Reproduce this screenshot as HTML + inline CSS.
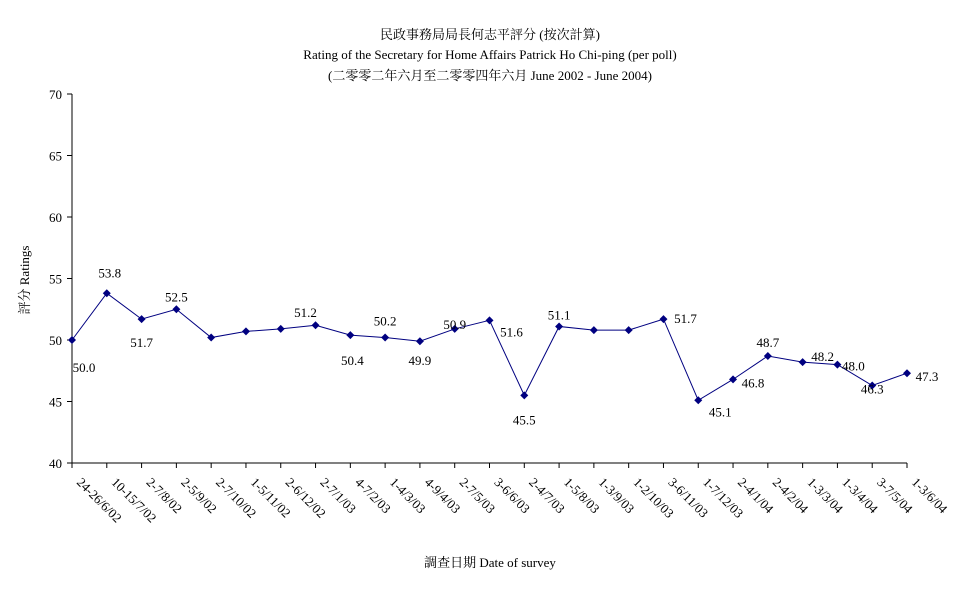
<!DOCTYPE html>
<html><head><meta charset="utf-8"><style>
body{margin:0;background:#fff;}
svg text{font-family:"Liberation Serif","Noto Serif CJK SC","Noto Sans CJK TC",serif;font-size:13px;fill:#000;}
</style></head><body>
<svg id="chart" width="977" height="600" xmlns="http://www.w3.org/2000/svg">
<text x="490" y="39" text-anchor="middle">民政事務局局長何志平評分 (按次計算)</text>
<text x="490" y="59" text-anchor="middle">Rating of the Secretary for Home Affairs Patrick Ho Chi-ping (per poll)</text>
<text x="490" y="80" text-anchor="middle">(二零零二年六月至二零零四年六月 June 2002 - June 2004)</text>
<text transform="translate(29,280) rotate(-90)" text-anchor="middle">評分 Ratings</text>
<text x="490" y="567" text-anchor="middle">調查日期 Date of survey</text>
<g id="g"></g>
</svg>
<script>
const categories=["24-26/6/02","10-15/7/02","2-7/8/02","2-5/9/02","2-7/10/02","1-5/11/02","2-6/12/02","2-7/1/03","4-7/2/03","1-4/3/03","4-9/4/03","2-7/5/03","3-6/6/03","2-4/7/03","1-5/8/03","1-3/9/03","1-2/10/03","3-6/11/03","1-7/12/03","2-4/1/04","2-4/2/04","1-3/3/04","1-3/4/04","3-7/5/04","1-3/6/04"];
const ratings=[50.0,53.8,51.7,52.5,50.2,50.7,50.9,51.2,50.4,50.2,49.9,50.9,51.6,45.5,51.1,50.8,50.8,51.7,45.1,46.8,48.7,48.2,48.0,46.3,47.3];
const shownLabels=[true,true,true,true,false,false,false,true,true,true,true,true,true,true,true,false,false,true,true,true,true,true,true,true,true];
const yTicks=[40,45,50,55,60,65,70];
const labelOffsets=[[12,28],[3,-20],[0,24],[0,-12],[0,0],[0,0],[0,0],[-10,-12],[2,26],[0,-16],[0,20],[0,-4],[22,12],[0,25],[0,-11],[0,0],[0,0],[22,0],[22,12],[20,4],[0,-13],[20,-5],[16,2],[0,4],[20,4]];
const X0=72,X1=907,Y0=463,Y1=94;
const x=i=>X0+i*(X1-X0)/(categories.length-1);
const y=v=>Y0-(v-40)*(Y0-Y1)/30;
const g=document.getElementById('g');
const NS='http://www.w3.org/2000/svg';
function mk(t,a){const e=document.createElementNS(NS,t);for(const k in a)e.setAttribute(k,a[k]);g.appendChild(e);return e;}
let e=mk('line',{x1:X0,y1:Y1,x2:X0,y2:Y0,stroke:'#000'});


e=mk('line',{x1:X0,y1:Y0,x2:X1,y2:Y0,stroke:'#000'});


yTicks.forEach(t=>{
 let l=mk('line',{x1:X0-5,y1:y(t),x2:X0,y2:y(t),stroke:'#000'});
 
 
 let tx=mk('text',{x:X0-10,y:y(t)+5,'text-anchor':'end'});tx.textContent=t;
 
 
});
categories.forEach((c,i)=>{
 let l=mk('line',{x1:x(i),y1:Y0,x2:x(i),y2:Y0+5,stroke:'#000'});
 
 
 let tx=mk('text',{transform:`translate(${x(i)+4},${Y0+20}) rotate(45)`});tx.textContent=c;
 
 
});
let p=mk('polyline',{points:ratings.map((v,i)=>x(i)+','+y(v)).join(' '),fill:'none',stroke:'#000080','stroke-width':1});


ratings.forEach((v,i)=>{
 const cx=x(i),cy=y(v);
 let m=mk('polygon',{points:`${cx},${cy-4} ${cx+4},${cy} ${cx},${cy+4} ${cx-4},${cy}`,fill:'#000080'});
 
 
 if(shownLabels[i]){
  let t=mk('text',{x:cx+labelOffsets[i][0],y:cy+labelOffsets[i][1]+4,'text-anchor':'middle'});
  t.textContent=v.toFixed(1);
  
  
 }
});
</script>
</body></html>
